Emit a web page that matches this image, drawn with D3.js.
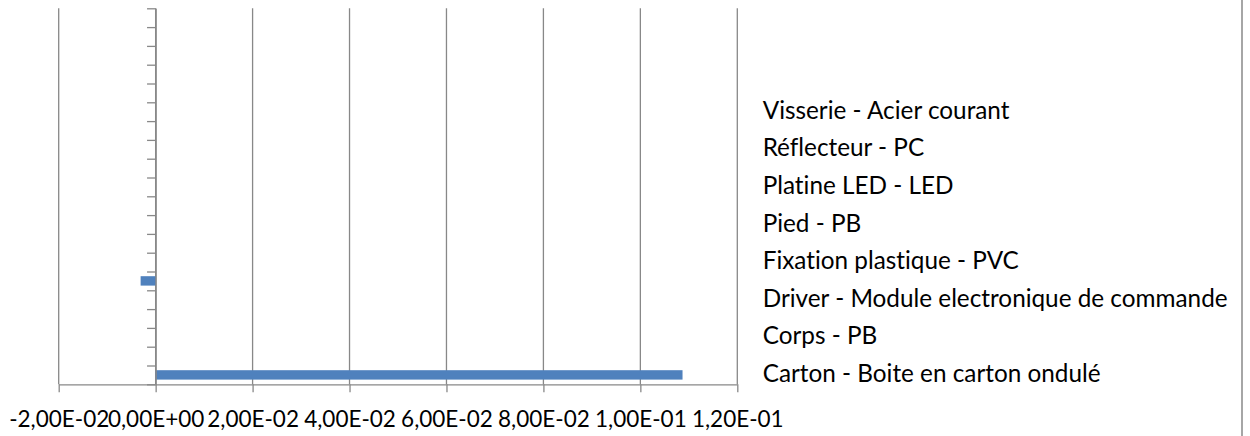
<!DOCTYPE html>
<html>
<head>
<meta charset="utf-8">
<script src="https://cdn.jsdelivr.net/npm/d3@7"></script>
<style>
  html, body { margin: 0; padding: 0; background: #fff; }
  svg { display: block; }
  text { font-family: Lato, "Open Sans", sans-serif; fill: #000; font-variant-ligatures: none; }
</style>
</head>
<body>
<div id="chart"></div>
<script>
// ---- DATA ----
// 20 categories, bottom to top. Excel shows only every 2nd label,
// so the odd ones (and the empty rows at the top) are left blank.
const categories = [
  'Carton - Boite en carton ondulé', '',
  'Corps - PB', '',
  'Driver - Module electronique de commande', '',
  'Fixation plastique - PVC', '',
  'Pied - PB', '',
  'Platine LED - LED', '',
  'Réflecteur - PC', '',
  'Visserie - Acier courant', '',
  '', '',
  '', ''
];
const values = [
  0.1087, 0, 0, 0, 0, -0.0031, 0, 0, 0, 0,
  0, 0, 0, 0, 0, 0, 0, 0, 0, 0
];
const xTicks = [-0.02, 0, 0.02, 0.04, 0.06, 0.08, 0.10, 0.12];

// ---- LAYOUT ----
const W = 1250, H = 436;
const plot = { left: 58.7, right: 737.3, top: 8.3, bottom: 384.3 };
const gray = '#888888';
const barColor = '#4F81BD';

const svg = d3.select('#chart').append('svg')
  .attr('width', W).attr('height', H);

const x = d3.scaleLinear()
  .domain([xTicks[0], xTicks[xTicks.length - 1]])
  .range([plot.left, plot.right]);

// category boundaries (ticks between categories)
const yEdge = d3.scaleLinear()
  .domain([0, categories.length])
  .range([plot.bottom, plot.top]);

const y = d3.scaleBand()
  .domain(d3.range(categories.length))
  .range([plot.bottom, plot.top])
  .padding(0);

// French-style scientific labels: 2,00E-02
function sciFr(v) {
  const s = v.toExponential(2).split('e');
  const exp = +s[1];
  const e = (exp < 0 ? '-' : '+') + String(Math.abs(exp)).padStart(2, '0');
  return s[0].replace('.', ',') + 'E' + e;
}

// ---- GRIDLINES ----
svg.append('g')
  .selectAll('line')
  .data(xTicks)
  .join('line')
  .attr('x1', d => x(d)).attr('x2', d => x(d))
  .attr('y1', plot.top).attr('y2', plot.bottom)
  .attr('stroke', gray).attr('stroke-width', 1.3);

// ---- BARS ----
const barH = y.bandwidth() * 0.5;
svg.append('g')
  .selectAll('rect')
  .data(values.map((v, i) => ({ v, i })).filter(d => d.v !== 0))
  .join('rect')
  .attr('x', d => x(Math.min(0, d.v)))
  .attr('width', d => Math.abs(x(d.v) - x(0)))
  .attr('y', d => y(d.i) + y.bandwidth() / 2 - barH / 2)
  .attr('height', barH)
  .attr('fill', barColor);

// ---- X AXIS ----
const xAxis = svg.append('g')
  .attr('transform', `translate(0,${plot.bottom})`)
  .call(d3.axisBottom(x).tickValues(xTicks).tickFormat(sciFr)
    .tickSize(8).tickSizeOuter(0).tickPadding(19));
xAxis.select('.domain').attr('stroke', gray).attr('stroke-width', 1.3);
xAxis.selectAll('.tick line').attr('stroke', gray).attr('stroke-width', 1.3);
xAxis.selectAll('.tick text')
  .attr('font-size', 22.5).attr('dy', '0.71em')
  .attr('font-family', 'Lato, "Open Sans", sans-serif').attr('fill', '#000');

// ---- Y AXIS (at zero) ----
const yAxis = svg.append('g')
  .attr('transform', `translate(${x(0)},0)`)
  .call(d3.axisLeft(yEdge).tickValues(d3.range(categories.length + 1))
    .tickFormat('').tickSize(8.6).tickSizeOuter(0));
yAxis.select('.domain').attr('stroke', gray).attr('stroke-width', 1.3);
yAxis.selectAll('.tick line').attr('stroke', gray).attr('stroke-width', 1.3);

// ---- CATEGORY LABELS (right side, every 2nd) ----
svg.append('g')
  .selectAll('text')
  .data(categories.map((c, i) => ({ c, i })).filter(d => d.i % 2 === 0 && d.c))
  .join('text')
  .attr('x', plot.right + 25.4)
  .attr('y', d => y(d.i) + y.bandwidth() / 2 + 7)
  .attr('font-size', 24.3)
  .text(d => d.c);

// ---- CHART BORDER (right edge visible) ----
svg.append('line')
  .attr('x1', 1242).attr('x2', 1242)
  .attr('y1', 0).attr('y2', H)
  .attr('stroke', gray).attr('stroke-width', 1.5);
</script>
</body>
</html>
